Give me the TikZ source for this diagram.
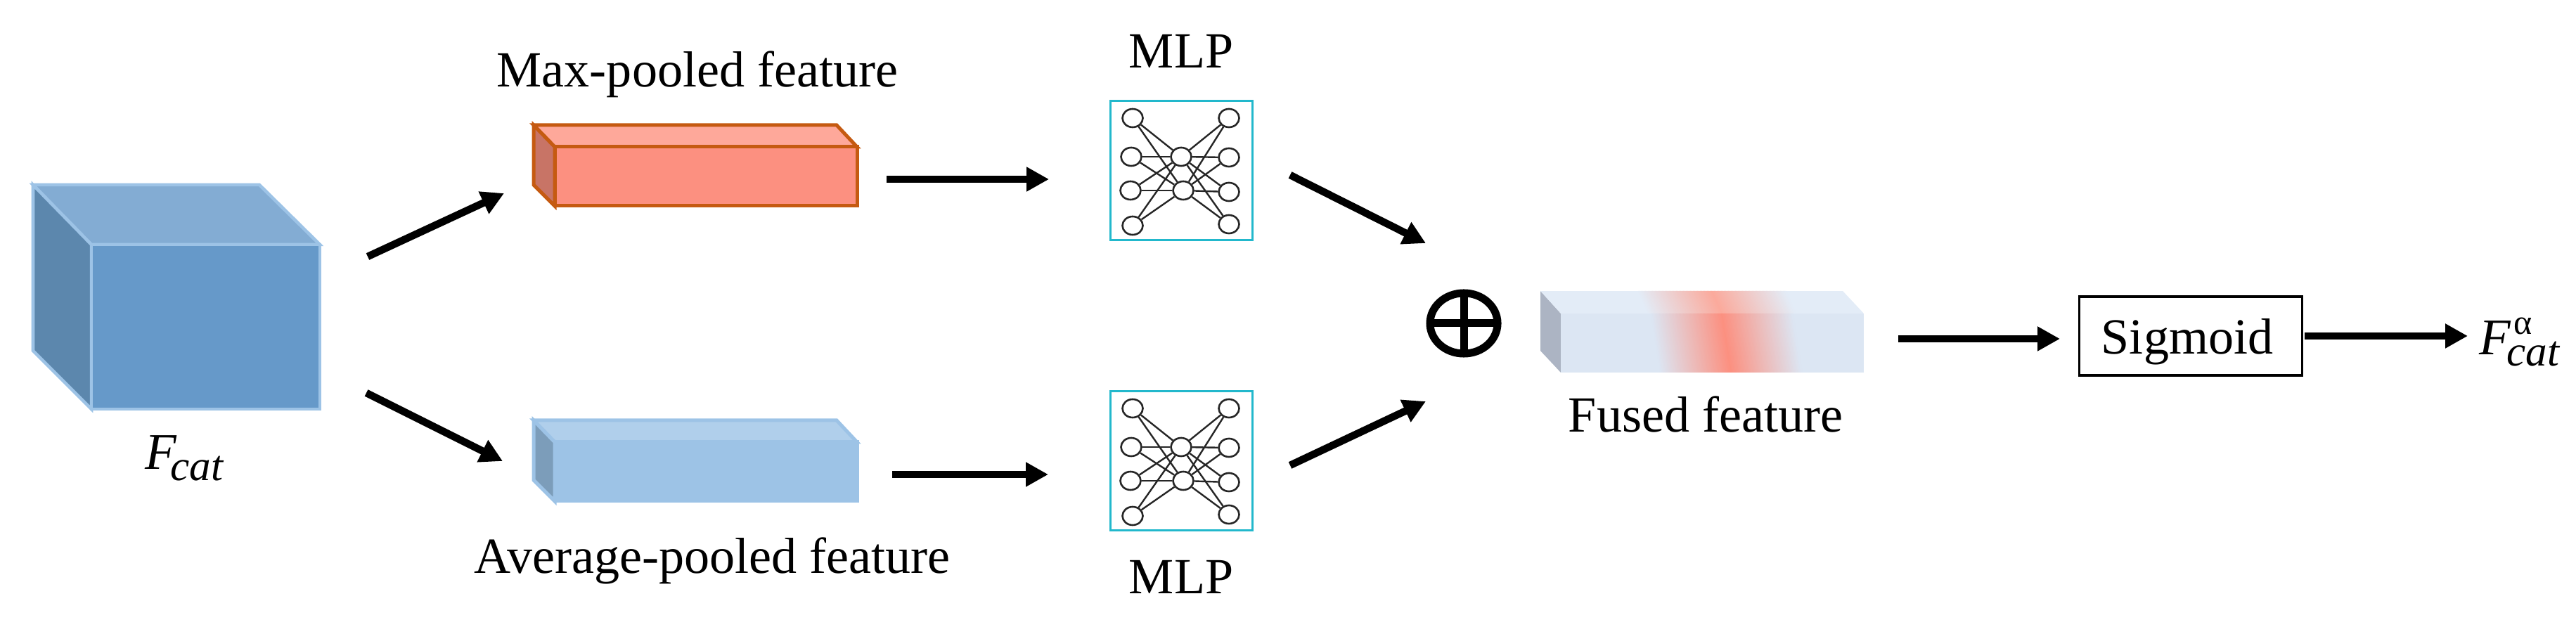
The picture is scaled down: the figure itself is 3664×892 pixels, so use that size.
\documentclass[tikz,border=0pt]{standalone}
\usepackage{fontspec}
\setmainfont{Liberation Serif}
\usetikzlibrary{arrows.meta,shapes.geometric}
\definecolor{cubeline}{HTML}{9DC3E6}
\definecolor{cubefront}{HTML}{6699C9}
\definecolor{cubetop}{HTML}{83ACD3}
\definecolor{cubeleft}{HTML}{5C87AD}
\definecolor{redline}{HTML}{C55A11}
\definecolor{redfront}{HTML}{FC9080}
\definecolor{redtop}{HTML}{FEA89A}
\definecolor{redleft}{HTML}{C87466}
\definecolor{bluetop}{HTML}{B0CFEB}
\definecolor{blueleft}{HTML}{7C9DBA}
\definecolor{fusedfront}{HTML}{DCE6F3}
\definecolor{fusedtop}{HTML}{E3ECF7}
\definecolor{fusedleft}{HTML}{ACB4C3}
\definecolor{fusedpeak}{HTML}{FC9080}
\definecolor{fusedpeaktop}{HTML}{FBAA9C}
\definecolor{mlpline}{HTML}{22B8CC}
\definecolor{netline}{HTML}{262626}
\newcommand{\labelfont}{\fontsize{20.49pt}{24pt}\selectfont}
\newcommand{\bigF}{\fontsize{20.8pt}{24pt}\selectfont\itshape F}
\newcommand{\subcat}{\fontsize{17.4pt}{20pt}\selectfont\itshape cat}
\newcommand{\mlpnet}[3]{%
  \begin{scope}[shift={(#1,#2)},name prefix=#3]
    \node[netbox,minimum width=2.01cm,minimum height=1.97cm] (box) at (140.5,122.5) {};
    \node[netnode] (l1) at (71,48) {};
    \node[netnode] (l2) at (69,103) {};
    \node[netnode] (l3) at (68,151) {};
    \node[netnode] (l4) at (71,201) {};
    \node[netnode] (m1) at (140,103) {};
    \node[netnode] (m2) at (143,151) {};
    \node[netnode] (r1) at (208,48) {};
    \node[netnode] (r2) at (208,104) {};
    \node[netnode] (r3) at (208,153) {};
    \node[netnode] (r4) at (208,199) {};
    \foreach \a in {l1,l2,l3,l4} {\foreach \b in {m1,m2} {\draw[netedge] (#3\a) -- (#3\b);}}
    \foreach \b in {r1,r2,r3,r4} {\foreach \a in {m1,m2} {\draw[netedge] (#3\a) -- (#3\b);}}
  \end{scope}}
\tikzset{
  bigarrow/.style={line width=0.105cm,-{Triangle[length=0.32cm,width=0.33cm]}},
  netbox/.style={draw=mlpline,line width=0.03cm,inner sep=0pt},
  netnode/.style={ellipse,draw=netline,line width=0.026cm,minimum width=0.29cm,minimum height=0.26cm,inner sep=0pt},
  netedge/.style={draw=netline,line width=0.024cm},
  txt/.style={inner sep=0pt,anchor=base,font=\labelfont},
  txtw/.style={inner sep=0pt,anchor=base west}
}
\begin{document}
\begin{tikzpicture}[x=0.01cm,y=-0.01cm,line join=miter]
\useasboundingbox (0,0) rectangle (3664,892);
% cube
\begin{scope}[draw=cubeline,line width=0.045cm]
  \filldraw[fill=cubetop] (47,263) -- (369,263) -- (455,348) -- (130,348) -- cycle;
  \filldraw[fill=cubeleft] (47,263) -- (130,348) -- (130,582) -- (47,499) -- cycle;
  \filldraw[fill=cubefront] (130,348) rectangle (455,582);
\end{scope}
\node[txtw] (fcat) at (206,668) {\bigF\kern-0.09cm\raisebox{-0.15cm}{\subcat}};
% red box
\begin{scope}[draw=redline,line width=0.05cm]
  \filldraw[fill=redtop] (759,178) -- (1190,178) -- (1219,209) -- (789,209) -- cycle;
  \filldraw[fill=redleft] (759,178) -- (789,209) -- (789,293) -- (759,263) -- cycle;
  \filldraw[fill=redfront] (789,209) rectangle (1219,293);
\end{scope}
\node[txt] (maxlabel) at (992,124) {Max-pooled feature};
% blue box
\begin{scope}[draw=cubeline,line width=0.05cm]
  \filldraw[fill=bluetop] (759,598) -- (1190,598) -- (1219,629) -- (789,629) -- cycle;
  \filldraw[fill=blueleft] (759,598) -- (789,629) -- (789,713) -- (759,683) -- cycle;
  \filldraw[fill=cubeline] (789,629) rectangle (1219,713);
\end{scope}
\node[txt] (avglabel) at (1013,816) {Average-pooled feature};
% MLPs
\mlpnet{1540}{120}{top}
\mlpnet{1540}{533}{bot}
\node[txt] (mlptop) at (1680,97) {MLP};
\node[txt] (mlpbot) at (1680,845) {MLP};
% sum
\node[ellipse,draw=black,line width=0.11cm,minimum width=0.96cm,minimum height=0.86cm,inner sep=0pt,outer sep=0pt] (sum) at (2082,460) {};
\draw[line width=0.11cm] (sum.north) -- (sum.south);
\draw[line width=0.11cm] (sum.west) -- (sum.east);
% fused box
\fill[fusedleft] (2191,414) -- (2220,446) -- (2220,530) -- (2191,499) -- cycle;
\begin{scope}
  \clip (2191,414) -- (2621,414) -- (2651,446) -- (2220,446) -- cycle;
  \fill[fusedtop] (2191,414) rectangle (2651,446);
  \foreach \d in {-104,-102,...,104} {
    \pgfmathsetmacro{\p}{100*(1-abs(\d)/105)}
    \fill[fusedpeaktop!\p!fusedtop] (2434+\d,414) -- (2448+\d,446) -- (2450.8+\d,446) -- (2436.8+\d,414) -- cycle;
  }
\end{scope}
\begin{scope}
  \clip (2220,446) rectangle (2651,530);
  \fill[fusedfront] (2220,446) rectangle (2651,530);
  \foreach \d in {-100,-98,...,100} {
    \pgfmathsetmacro{\p}{100*(1-abs(\d)/101)}
    \fill[fusedpeak!\p!fusedfront] (2448+\d,446) -- (2461+\d,530) -- (2463.8+\d,530) -- (2450.8+\d,446) -- cycle;
  }
\end{scope}
\node[txt] (fusedlabel) at (2426,615) {Fused feature};
% sigmoid
\node[draw=black,line width=0.035cm,minimum width=3.165cm,minimum height=1.12cm,inner sep=0pt,text height=0.6cm,text depth=0.1cm,font=\labelfont] (sigmoid) at (3116,478) {\hspace*{-0.1cm}Sigmoid};
\node[txtw] (fout) at (3526,505) {\bigF\kern-0.06cm\rlap{\kern0.1cm\raisebox{0.29cm}{\fontsize{14.2pt}{16pt}\selectfont\upshape α}}\raisebox{-0.15cm}{\subcat}};
% arrows
\coordinate (a1s) at (523,365); \coordinate (a1e) at (717,275);
\coordinate (a2s) at (521,559); \coordinate (a2e) at (715,656);
\coordinate (a3s) at (1261,255); \coordinate (a3e) at (1492,255);
\coordinate (a4s) at (1269,675); \coordinate (a4e) at (1491,675);
\coordinate (a5s) at (1835,249); \coordinate (a5e) at (2028,346);
\coordinate (a6s) at (1835,662); \coordinate (a6e) at (2028,571);
\coordinate (a7s) at (2700,482); \coordinate (a7e) at (2930,482);
\coordinate (a8e) at (3510,478);
\foreach \n in {1,...,7} {\draw[bigarrow] (a\n s) -- (a\n e);}
\draw[bigarrow] (sigmoid.east) ++(2,0) -- (a8e);
\end{tikzpicture}
\end{document}
